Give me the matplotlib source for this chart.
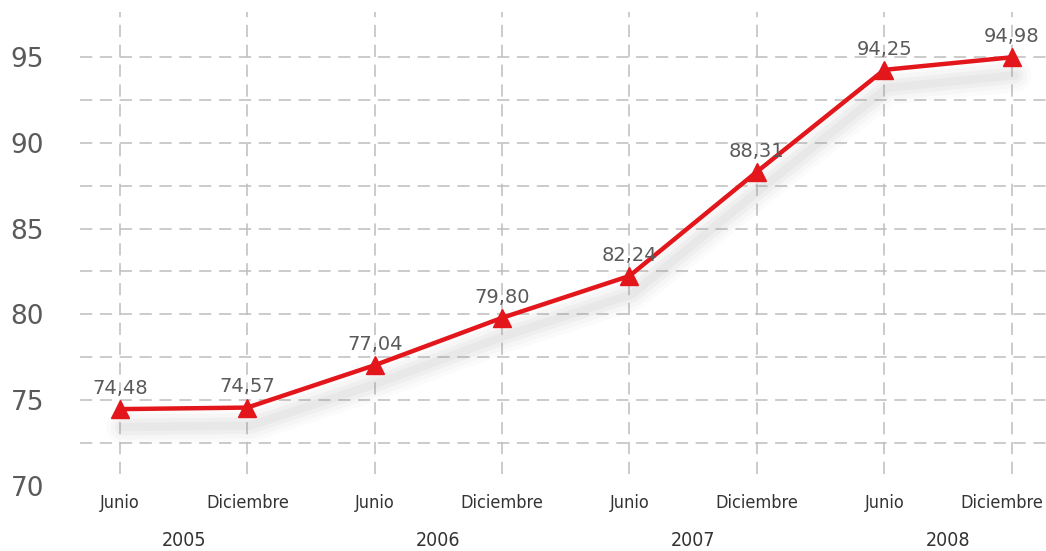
import numpy as np
import matplotlib
matplotlib.use('Agg')
import matplotlib.pyplot as plt
import matplotlib.transforms as mtransforms

# --- data ---
periodos = ['Junio', 'Diciembre', 'Junio', 'Diciembre', 'Junio', 'Diciembre', 'Junio', 'Diciembre']
anios = ['2005', '2006', '2007', '2008']
valores = [74.48, 74.57, 77.04, 79.80, 82.24, 88.31, 94.25, 94.98]
etiquetas = ['74,48', '74,57', '77,04', '79,80', '82,24', '88,31', '94,25', '94,98']
y_ticks = [70, 75, 80, 85, 90, 95]

ROJO = '#e3161c'
GRIS = '#5a5a5a'

fig = plt.figure(figsize=(10.46, 5.51), dpi=100)
ax = fig.add_axes([80 / 1046, 1 - 486 / 551, 966 / 1046, (486 - 12) / 551])

x = np.arange(len(valores))
ax.set_xlim(-0.314, 7.27)
ax.set_ylim(70, 97.62)

# rejilla
for yy in np.arange(72.5, 95.1, 2.5):
    ax.axhline(yy, color='#bdbdbd', lw=1.1, ls=(0, (8, 5)), zorder=1)
for xx in x:
    ax.axvline(xx, ymin=0.025, ymax=1, color='#bdbdbd', lw=1.1, ls=(0, (8, 5)), zorder=1)

# sombra difusa bajo la linea
for w, a in [(24, 0.03), (18, 0.04), (12, 0.05), (6, 0.06)]:
    off = mtransforms.offset_copy(ax.transData, fig=fig, x=3, y=-18, units='dots')
    ax.plot(x, valores, color='#808080', lw=w, alpha=a, solid_capstyle='round',
            transform=off, zorder=2)

ax.plot(x, valores, color=ROJO, lw=3.2, marker='^', markersize=13, zorder=3)

for xi, v, t in zip(x, valores, etiquetas):
    ax.annotate(t, (xi, v), xytext=(0, 8), textcoords='offset points',
                ha='center', va='bottom', fontsize=14, color=GRIS, zorder=4)

# ejes
for s in ax.spines.values():
    s.set_visible(False)
ax.set_yticks(y_ticks)
ax.set_yticklabels([str(t) for t in y_ticks], fontsize=19, color=GRIS)
ax.tick_params(axis='y', length=0, pad=26)
ax.set_xticks(x)
ax.set_xticklabels(periodos, fontsize=13, color='#333333', fontstretch='condensed')
ax.tick_params(axis='x', length=0, pad=6)
# ultima etiqueta un poco a la izquierda para que quepa
ult = ax.get_xticklabels()[-1]
ult.set_transform(ult.get_transform() + mtransforms.ScaledTranslation(-10 / 100, 0, fig.dpi_scale_trans))

for i, a in enumerate(anios):
    ax.text(2 * i + 0.5, -0.095, a, transform=ax.get_xaxis_transform(),
            ha='center', va='top', fontsize=14, color='#333333', fontstretch='condensed')

fig.savefig('out.png', dpi=100, facecolor='white')
